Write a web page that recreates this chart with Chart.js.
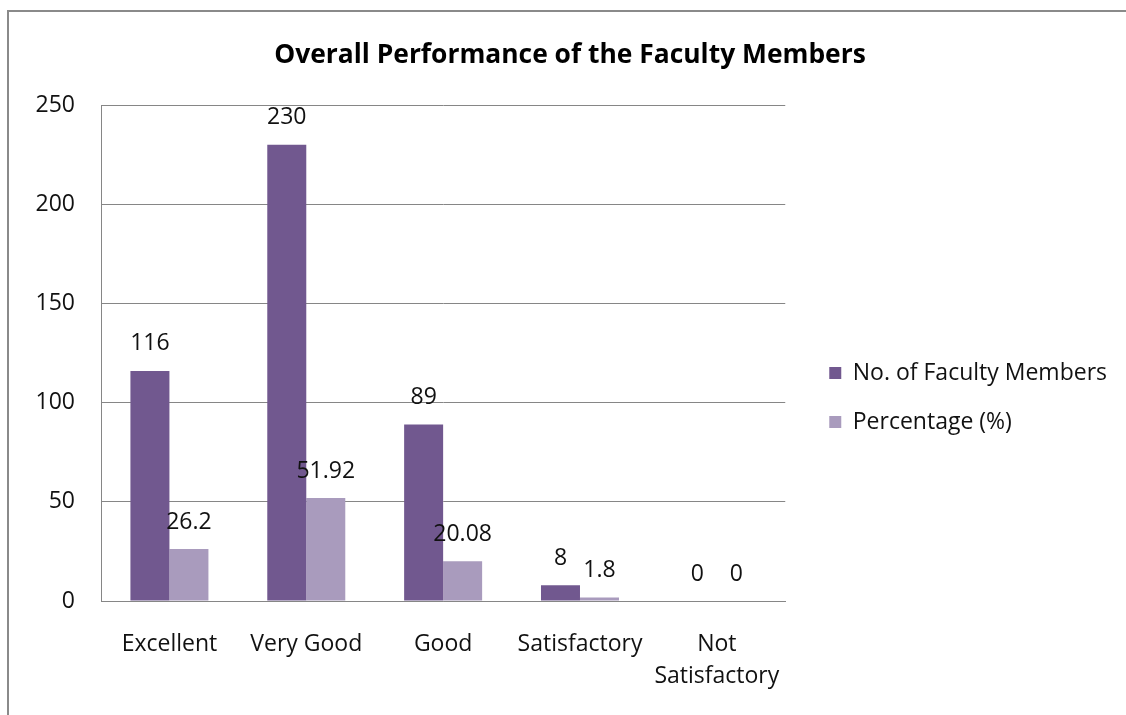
<!DOCTYPE html>
<html>
<head>
<meta charset="utf-8">
<script src="https://cdn.jsdelivr.net/npm/chart.js@4.4.1/dist/chart.umd.min.js"></script>
<style>
  html, body { margin: 0; padding: 0; background: #ffffff; overflow: hidden; width: 1126px; height: 715px; }
  #frame { position: absolute; left: 7px; top: 10px; width: 1117px; height: 703px;
           border-left: 2px solid #8a8a8a; border-top: 2px solid #8a8a8a; }
  #wrap { position: absolute; left: 0; top: 0; width: 1126px; height: 715px; }
</style>
</head>
<body>
<div id="frame"></div>
<div id="wrap"><canvas id="c" width="1126" height="715"></canvas></div>
<script>
const categories = ['Excellent', 'Very Good', 'Good', 'Satisfactory', ['Not', 'Satisfactory']];
const facultyCounts = [116, 230, 89, 8, 0];
const percentages = [26.2, 51.92, 20.08, 1.8, 0];
const seriesNames = ['No. of Faculty Members', 'Percentage (%)'];
const yTicks = [0, 50, 100, 150, 200, 250];

const FONT = "'Open Sans', sans-serif";

const valueLabels = {
  id: 'valueLabels',
  afterDatasetsDraw(chart) {
    const ctx = chart.ctx;
    ctx.save();
    ctx.font = '23px ' + FONT;
    ctx.fillStyle = '#111111';
    ctx.textAlign = 'center';
    ctx.textBaseline = 'middle';
    chart.data.datasets.forEach((ds, i) => {
      const meta = chart.getDatasetMeta(i);
      meta.data.forEach((bar, j) => {
        ctx.fillText(String(ds.data[j]), bar.x, bar.y - 27);
      });
    });
    ctx.restore();
  }
};

new Chart(document.getElementById('c'), {
  type: 'bar',
  data: {
    labels: categories,
    datasets: [
      { label: seriesNames[0], data: facultyCounts, backgroundColor: '#71588F',
        categoryPercentage: 0.57, barPercentage: 1.0 },
      { label: seriesNames[1], data: percentages, backgroundColor: '#A99BBD',
        categoryPercentage: 0.57, barPercentage: 1.0 }
    ]
  },
  options: {
    responsive: false,
    animation: false,
    layout: { padding: { left: 23, right: 9, top: 20, bottom: 24 } },
    plugins: {
      title: {
        display: true,
        text: 'Overall Performance of the Faculty Members',
        color: '#000',
        font: { family: FONT, size: 26.4, weight: 'bold', lineHeight: 1.2 },
        padding: { top: 19.4, bottom: 34 }
      },
      legend: {
        position: 'right',
        maxWidth: 400,
        title: { display: true, text: '', font: { size: 10, lineHeight: 1 }, padding: { top: 0, bottom: 74 } },
        labels: {
          color: '#111111',
          font: { family: FONT, size: 23 },
          boxWidth: 12, boxHeight: 12,
          padding: 26
        }
      },
      tooltip: { enabled: false }
    },
    scales: {
      x: {
        afterFit(scale) { scale.height = 90; },
        grid: { display: false, drawTicks: false },
        border: { display: true, color: '#868686', width: 1 },
        ticks: { color: '#111111', font: { family: FONT, size: 23, lineHeight: 1.39 }, padding: 27, maxRotation: 0 }
      },
      y: {
        min: 0, max: 250,
        afterBuildTicks(scale) { scale.ticks = yTicks.map(v => ({ value: v })); },
        afterFit(scale) { scale.width = 78; },
        grid: { color: '#868686', lineWidth: 1, drawTicks: false },
        border: { display: true, color: '#868686', width: 1 },
        ticks: { color: '#111111', font: { family: FONT, size: 23 }, padding: 26 }
      },
      gap: {
        position: 'right',
        min: 0, max: 1,
        afterFit(scale) { scale.width = 18; },
        grid: { display: false, drawTicks: false },
        border: { display: false },
        ticks: { display: false }
      }
    }
  },
  plugins: [valueLabels]
});
</script>
</body>
</html>
